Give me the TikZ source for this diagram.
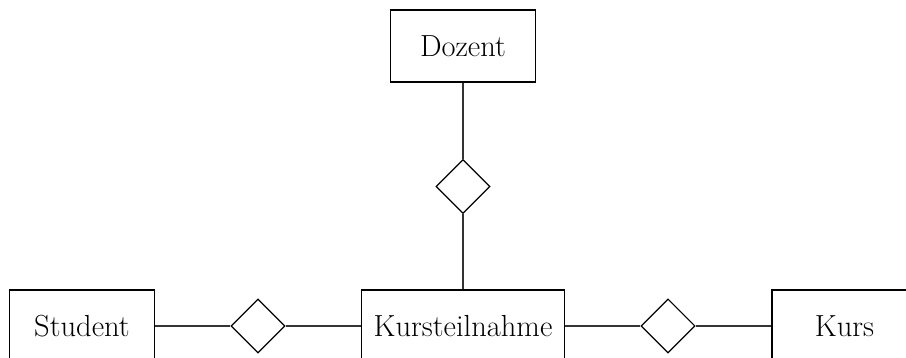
\documentclass[tikz,border=0pt]{standalone}
\usetikzlibrary{shapes.geometric}
\begin{document}
\begin{tikzpicture}[x=1pt,y=-1pt,
  entity/.style={draw=black,line width=1.1pt,rectangle,minimum width=145pt,minimum height=72pt,inner sep=0pt,font=\fontsize{30.5}{34}\selectfont},
  relation/.style={draw=black,line width=1.1pt,diamond,minimum width=54pt,minimum height=54pt,inner sep=0pt},
  link/.style={draw=black!80,line width=1.1pt}]
\clip (0,0) rectangle (906,358);
\node[entity] (dozent) at (463,46) {Dozent};
\node[relation] (rtop) at (463,186.5) {};
\node[entity,minimum width=203pt] (kt) at (463,326) {Kursteilnahme};
\node[entity] (student) at (82,326) {Student};
\node[entity] (kurs) at (844.5,326) {Kurs};
\node[relation] (rleft) at (258,326) {};
\node[relation] (rright) at (668,326) {};
\draw[link] (dozent) -- (rtop);
\draw[link] (rtop) -- (kt);
\draw[link] (student) -- (rleft);
\draw[link] (rleft) -- (kt);
\draw[link] (kt) -- (rright);
\draw[link] (rright) -- (kurs);
\end{tikzpicture}
\end{document}
